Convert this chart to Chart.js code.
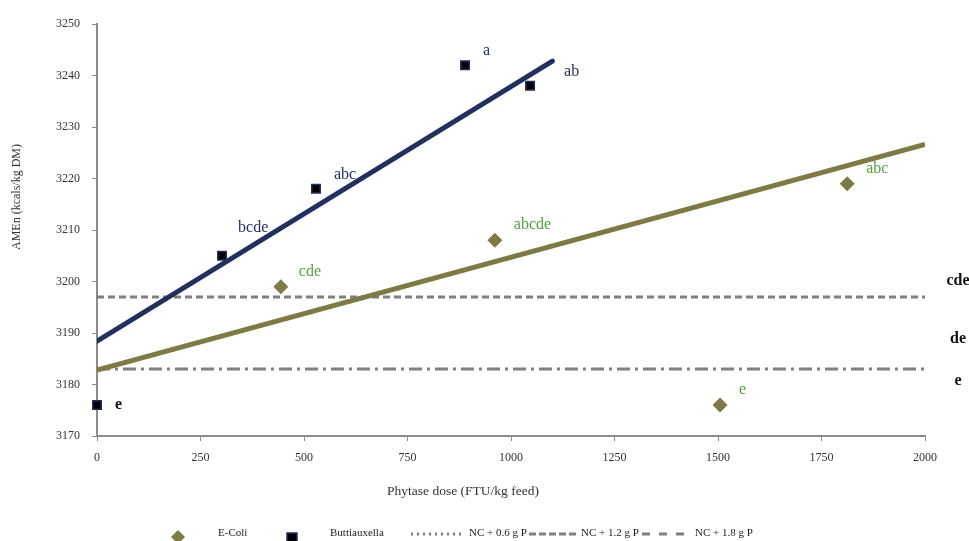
<!DOCTYPE html>
<html>
<head>
<meta charset="utf-8">
<script src="https://cdn.jsdelivr.net/npm/chart.js@4"></script>
<style>
  html, body { margin: 0; padding: 0; background: #fff; }
  #wrap { width: 969px; height: 541px; }
</style>
</head>
<body>
<div id="wrap"><canvas id="chart" width="969" height="541"></canvas></div>
<script>
// phytase dose (FTU/kg feed) and AMEn values
const ecoliDose = [444, 961, 1505, 1812];
const ecoliAmen = [3199, 3208, 3176, 3219];
const ecoliLetters = ['cde', 'abcde', 'e', 'abc'];

const buttiDose = [0, 302, 529, 889, 1046];
const buttiAmen = [3176, 3205, 3218, 3242, 3238];
const buttiLetters = ['e', 'bcde', 'abc', 'a', 'ab'];

// fitted trend lines (end points)
const ecoliTrendDose = [0, 2000];
const ecoliTrendAmen = [3182.8, 3226.6];
const buttiTrendDose = [0, 1100];
const buttiTrendAmen = [3188.4, 3242.8];

// negative control reference levels
const nc18Level = 3197;
const nc06Level = 3183;

// letters shown at the right edge next to the reference lines
const sideLetters = ['cde', 'de', 'e'];
const sideLetterAmen = [3200.1, 3188.8, 3180.7];

const xTicks = [0, 250, 500, 750, 1000, 1250, 1500, 1750, 2000];

const xTitle = 'Phytase dose (FTU/kg feed)';
const yTitle = 'AMEn (kcals/kg DM)';

const SERIF = '"Liberation Serif", "DejaVu Serif", serif';
const NAVY = '#22305f';
const OLIVE = '#7e7a45';
const GREEN = '#4ea23e';
const GREYLINE = '#7f7f7f';

const toPoints = (xs, ys) => xs.map((x, i) => ({ x: x, y: ys[i] }));
const flat = (level) => [{ x: 0, y: level }, { x: 2000, y: level }];

// axis titles, letters next to points, right-side letters and the legend row
const annotations = {
    id: 'annotations',
    afterDatasetsDraw(chart) {
        const ctx = chart.ctx;
        const xs = chart.scales.x;
        const ys = chart.scales.y;
        ctx.save();
        ctx.textBaseline = 'middle';
        ctx.textAlign = 'center';

        // axis titles (sit off-centre in the original)
        ctx.fillStyle = '#333';
        ctx.font = '13.5px ' + SERIF;
        ctx.fillText(xTitle, 463, 491);
        ctx.save();
        ctx.translate(17, 197);
        ctx.rotate(-Math.PI / 2);
        ctx.font = '12px ' + SERIF;
        ctx.fillText(yTitle, 0, 0);
        ctx.restore();

        ctx.textAlign = 'left';
        // Buttiauxella letters
        const buttiOffsets = [[18, 0], [16, -28], [18, -14], [18, -14], [34, -14]];
        buttiLetters.forEach((t, i) => {
            const px = xs.getPixelForValue(buttiDose[i]) + buttiOffsets[i][0];
            const py = ys.getPixelForValue(buttiAmen[i]) + buttiOffsets[i][1];
            ctx.fillStyle = i === 0 ? '#111' : NAVY;
            ctx.font = (i === 0 ? 'bold ' : '') + '16px ' + SERIF;
            ctx.fillText(t, px, py);
        });

        // E-Coli letters
        const ecoliOffsets = [[18, -15], [19, -16], [19, -15], [19, -15]];
        ecoliLetters.forEach((t, i) => {
            const px = xs.getPixelForValue(ecoliDose[i]) + ecoliOffsets[i][0];
            const py = ys.getPixelForValue(ecoliAmen[i]) + ecoliOffsets[i][1];
            ctx.fillStyle = GREEN;
            ctx.font = '16px ' + SERIF;
            ctx.fillText(t, px, py);
        });

        // right edge letters
        ctx.fillStyle = '#111';
        ctx.font = 'bold 16px ' + SERIF;
        ctx.textAlign = 'center';
        sideLetters.forEach((t, i) => {
            ctx.fillText(t, 958, ys.getPixelForValue(sideLetterAmen[i]));
        });

        // legend
        ctx.textAlign = 'left';
        ctx.textBaseline = 'alphabetic';
        ctx.font = '11px ' + SERIF;

        // E-Coli diamond
        ctx.fillStyle = OLIVE;
        ctx.beginPath();
        ctx.moveTo(178, 530); ctx.lineTo(185, 537); ctx.lineTo(178, 544); ctx.lineTo(171, 537);
        ctx.closePath(); ctx.fill();
        ctx.fillStyle = '#222';
        ctx.fillText('E-Coli', 218, 536);

        // Buttiauxella square
        ctx.fillStyle = '#000';
        ctx.strokeStyle = NAVY;
        ctx.lineWidth = 1.5;
        ctx.fillRect(287, 533, 10, 10);
        ctx.strokeRect(287, 533, 10, 10);
        ctx.fillStyle = '#222';
        ctx.fillText('Buttiauxella', 330, 536);

        ctx.strokeStyle = GREYLINE;
        ctx.lineWidth = 3;
        // NC + 0.6 dotted
        ctx.setLineDash([2, 4]);
        ctx.beginPath(); ctx.moveTo(411, 534); ctx.lineTo(464, 534); ctx.stroke();
        ctx.fillText('NC + 0.6 g P', 469, 536);
        // NC + 1.2 dashed
        ctx.setLineDash([7, 3]);
        ctx.beginPath(); ctx.moveTo(529, 534); ctx.lineTo(577, 534); ctx.stroke();
        ctx.fillText('NC + 1.2 g P', 581, 536);
        // NC + 1.8 long gaps
        ctx.setLineDash([8, 9]);
        ctx.beginPath(); ctx.moveTo(642, 534); ctx.lineTo(692, 534); ctx.stroke();
        ctx.fillText('NC + 1.8 g P', 695, 536);
        ctx.restore();
    }
};

new Chart(document.getElementById('chart'), {
    type: 'scatter',
    data: {
        datasets: [
            {
                label: 'NC + 1.8 g P',
                data: flat(nc18Level),
                showLine: true,
                borderColor: GREYLINE,
                borderWidth: 3,
                borderDash: [7, 4],
                pointRadius: 0,
                order: 5
            },
            {
                label: 'NC + 0.6 g P',
                data: flat(nc06Level),
                showLine: true,
                borderColor: GREYLINE,
                borderWidth: 3,
                borderDash: [13, 5, 3, 5],
                pointRadius: 0,
                order: 5
            },
            {
                label: 'E-Coli trend',
                data: toPoints(ecoliTrendDose, ecoliTrendAmen),
                showLine: true,
                borderColor: OLIVE,
                borderWidth: 5,
                pointRadius: 0,
                order: 3
            },
            {
                label: 'Buttiauxella trend',
                data: toPoints(buttiTrendDose, buttiTrendAmen),
                showLine: true,
                borderColor: NAVY,
                borderWidth: 5,
                borderCapStyle: 'round',
                pointRadius: 0,
                order: 3
            },
            {
                label: 'E-Coli',
                data: toPoints(ecoliDose, ecoliAmen),
                pointStyle: 'rectRot',
                pointRadius: 7.5,
                backgroundColor: OLIVE,
                borderColor: OLIVE,
                borderWidth: 0,
                order: 1
            },
            {
                label: 'Buttiauxella',
                data: toPoints(buttiDose, buttiAmen),
                pointStyle: 'rect',
                pointRadius: 6,
                backgroundColor: '#000',
                borderColor: NAVY,
                borderWidth: 1.5,
                clip: false,
                order: 1
            }
        ]
    },
    options: {
        responsive: false,
        animation: false,
        layout: { padding: { left: 0, right: 44, top: 24, bottom: 0 } },
        plugins: {
            legend: { display: false },
            tooltip: { enabled: false }
        },
        scales: {
            x: {
                type: 'linear',
                min: 0,
                max: 2000,
                afterBuildTicks: (s) => { s.ticks = xTicks.map(v => ({ value: v })); },
                afterFit: (s) => { s.height = 105; },
                border: { color: '#8c8c8c', width: 2 },
                grid: { display: true, drawOnChartArea: false, drawTicks: true, tickLength: 5, color: '#8c8c8c' },
                ticks: { padding: 10, color: '#333', font: { family: SERIF, size: 12 }, callback: (v) => String(v) }
            },
            y: {
                type: 'linear',
                min: 3170,
                max: 3250,
                afterFit: (s) => { s.width = 97; },
                border: { color: '#8c8c8c', width: 2 },
                grid: { display: true, drawOnChartArea: false, drawTicks: true, tickLength: 5, color: '#8c8c8c' },
                ticks: { stepSize: 10, padding: 12, color: '#333', font: { family: SERIF, size: 12 }, callback: (v) => String(v) }
            }
        }
    },
    plugins: [annotations]
});
</script>
</body>
</html>
